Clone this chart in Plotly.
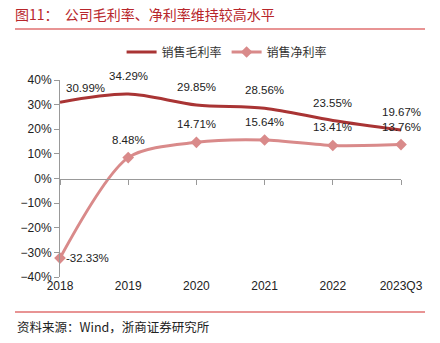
import plotly.graph_objects as go

categories = ["2018", "2019", "2020", "2021", "2022", "2023Q3"]
gross_margin = [30.99, 34.29, 29.85, 28.56, 23.55, 19.67]
net_margin = [-32.33, 8.48, 14.71, 15.64, 13.41, 13.76]
y_ticks = [-40, -30, -20, -10, 0, 10, 20, 30, 40]

W, H = 440, 343
L, R, T, B = 60, 39, 80, 66
ph = H - T - B

def py(p):
    return (H - B - p) / ph

def px(p):
    return (p - L) / (W - L - R)

fig = go.Figure()
fig.add_trace(go.Scatter(
    x=categories, y=gross_margin, mode="lines", name="销售毛利率",
    line=dict(color="#A93434", width=3, shape="spline", smoothing=0.9),
    cliponaxis=False,
))
fig.add_trace(go.Scatter(
    x=categories, y=net_margin, mode="lines+markers", name="销售净利率",
    line=dict(color="#D98A8A", width=3, shape="spline", smoothing=0.8),
    marker=dict(symbol="diamond", size=9, color="#D98A8A"),
    cliponaxis=False,
))
# invisible trace for the zero-line axis with ticks
fig.add_trace(go.Scatter(x=categories, y=[0]*len(categories), xaxis="x2",
                         mode="lines", line=dict(width=0), showlegend=False,
                         hoverinfo="skip"))

label_font = dict(family="Liberation Sans, Arial", size=11.5, color="#222")
annotations = []
for i, v in enumerate(gross_margin):
    annotations.append(dict(x=i, y=v, xref="x", yref="y", text=f"{v:.2f}%", showarrow=False,
                            xshift=25 if i == 0 else 0, yshift=14 if i == 0 else 18,
                            font=label_font))
for i, v in enumerate(net_margin):
    annotations.append(dict(x=i, y=v, xref="x", yref="y", text=f"{v:.2f}%", showarrow=False,
                            xshift=27 if i == 0 else 0, yshift=0 if i == 0 else 18,
                            font=label_font))
annotations.append(dict(text="资料来源：Wind，浙商证券研究所", xref="paper", yref="paper",
                        x=px(15), y=py(326), xanchor="left", yanchor="middle", showarrow=False,
                        font=dict(family="Noto Sans CJK SC", size=12.5, color="#222")))

fig.update_layout(
    width=W, height=H,
    margin=dict(l=L, r=R, t=T, b=B),
    paper_bgcolor="white", plot_bgcolor="white",
    font=dict(family="Liberation Sans, Arial", size=11, color="#222"),
    title=dict(text="图11：  公司毛利率、净利率维持较高水平", x=15/W, xanchor="left",
               y=1-15/H, yanchor="middle", yref="container",
               font=dict(family="Noto Sans CJK SC", size=14, color="#B8262B")),
    legend=dict(orientation="h", x=0.49, xanchor="center", y=py(52), yanchor="middle",
                font=dict(family="Noto Sans CJK SC", size=12, color="#333"),
                itemwidth=30, tracegroupgap=0),
    showlegend=True,
    xaxis=dict(type="category", range=[0, 5], showline=False, ticks="",
               showgrid=False, zeroline=False, tickfont=dict(size=12)),
    xaxis2=dict(type="category", range=[0, 5], overlaying="x", anchor="free",
                position=0.5, side="bottom", showline=True, linecolor="#999",
                linewidth=1, ticks="outside", ticklen=5, tickcolor="#999",
                showticklabels=False, showgrid=False, zeroline=False),
    yaxis=dict(range=[-40, 40], tickvals=y_ticks,
               ticktext=[f"{v}%".replace("-", "−") for v in y_ticks],
               showline=True, linecolor="#999", linewidth=1, ticks="outside",
               ticklen=5, tickcolor="#999", showgrid=False, zeroline=False,
               tickfont=dict(size=12)),
    shapes=[
        dict(type="line", xref="paper", yref="paper", x0=px(15), x1=px(425),
             y0=py(29), y1=py(29), line=dict(color="#E07070", width=1.5)),
        dict(type="line", xref="paper", yref="paper", x0=px(15), x1=px(425),
             y0=py(312), y1=py(312), line=dict(color="#E07070", width=1.5)),
    ],
    annotations=annotations,
)

fig.write_html("out.html")
